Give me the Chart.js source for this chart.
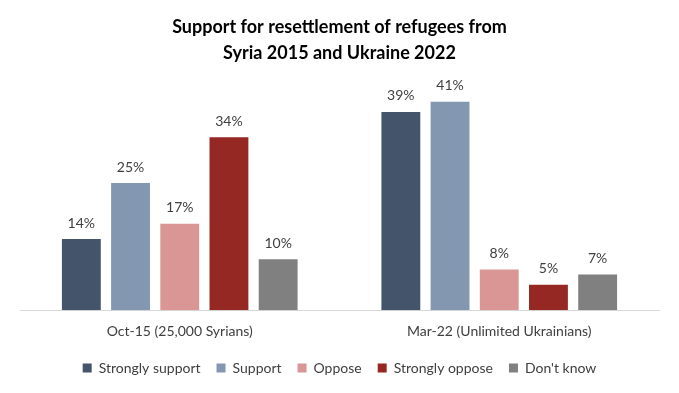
<!DOCTYPE html>
<html>
<head>
<meta charset="utf-8">
<script src="https://cdn.jsdelivr.net/npm/chart.js@4"></script>
<style>
  html, body { margin: 0; padding: 0; background: #fff; }
  #wrap { width: 679px; height: 393px; }
</style>
</head>
<body>
<div id="wrap"><canvas id="chart"></canvas></div>
<script>
const categories = ['Oct-15 (25,000 Syrians)', 'Mar-22 (Unlimited Ukrainians)'];
const seriesNames = ['Strongly support', 'Support', 'Oppose', 'Strongly oppose', "Don't know"];
const stronglySupport = [14, 39];
const support = [25, 41];
const oppose = [17, 8];
const stronglyOppose = [34, 5];
const dontKnow = [10, 7];
const colors = ['#44546A', '#8497B0', '#DA9694', '#962823', '#808080'];

const allSeries = [stronglySupport, support, oppose, stronglyOppose, dontKnow];
const FONT = 'Lato, "Open Sans", sans-serif';

// draws "NN%" above each bar
const valueLabels = {
  id: 'valueLabels',
  afterDatasetsDraw(chart) {
    const ctx = chart.ctx;
    ctx.save();
    ctx.font = '14px ' + FONT;
    ctx.fillStyle = '#404040';
    ctx.textAlign = 'center';
    ctx.textBaseline = 'bottom';
    chart.data.datasets.forEach((ds, i) => {
      chart.getDatasetMeta(i).data.forEach((bar, j) => {
        ctx.fillText(ds.data[j] + '%', bar.x, bar.y - 9);
      });
    });
    ctx.restore();
  }
};

new Chart(document.getElementById('chart'), {
  type: 'bar',
  data: {
    labels: categories,
    datasets: allSeries.map((values, i) => ({
      label: seriesNames[i],
      data: values,
      backgroundColor: colors[i],
      categoryPercentage: 0.77,
      barPercentage: 0.79,
    })),
  },
  options: {
    responsive: true,
    maintainAspectRatio: false,
    animation: false,
    layout: { padding: { left: 20, right: 20, top: 0, bottom: 8 } },
    scales: {
      x: {
        grid: { display: false },
        border: { color: '#d9d9d9', width: 1 },
        ticks: { color: '#404040', font: { family: FONT, size: 14 }, padding: 5 },
      },
      y: { display: false, min: 0, max: 45 },
    },
    plugins: {
      title: {
        display: true,
        text: ['Support for resettlement of refugees from', 'Syria 2015 and Ukraine 2022'],
        color: '#000',
        font: { family: FONT, size: 18, weight: 'bold', lineHeight: 1.4 },
        padding: { top: 15, bottom: 16 },
      },
      legend: {
        position: 'bottom',
        labels: {
          color: '#404040',
          font: { family: FONT, size: 14 },
          boxWidth: 9,
          boxHeight: 9,
          padding: 16,
        },
      },
      tooltip: { enabled: false },
    },
  },
  plugins: [valueLabels],
});
</script>
</body>
</html>
